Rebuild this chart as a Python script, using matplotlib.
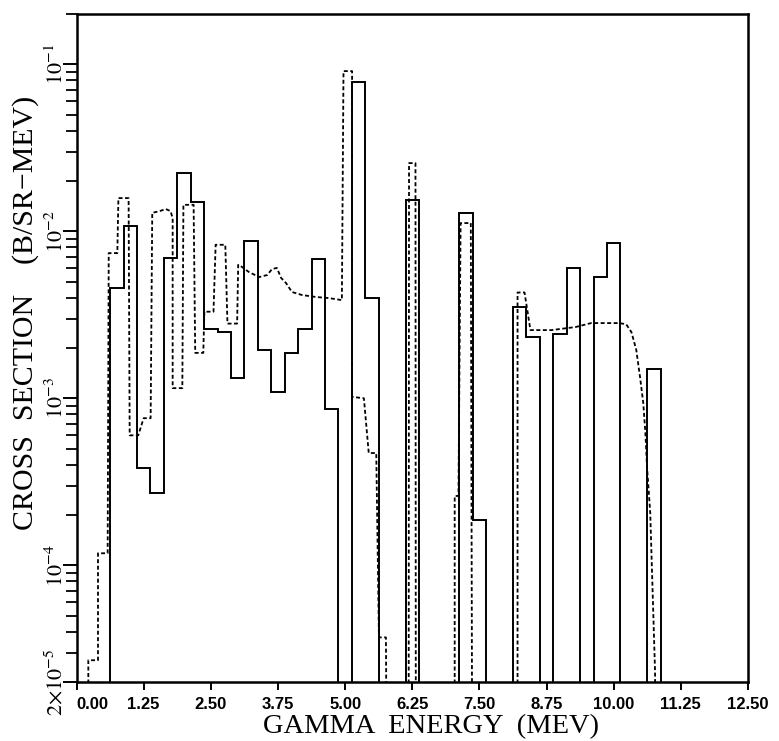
import numpy as np
import matplotlib.pyplot as plt
from matplotlib.ticker import FixedLocator, LogLocator, NullFormatter

# measured spectrum: 0.25 MeV bins (bin edges)
bin_edges = np.arange(0.625, 10.876, 0.25)
measured = [4.6e-3, 1.08e-2, 3.8e-4, 2.7e-4, 6.9e-3, 2.23e-2, 1.5e-2, 2.6e-3,
            2.5e-3, 1.32e-3, 8.75e-3, 1.95e-3, 1.09e-3, 1.87e-3, 2.6e-3, 6.8e-3,
            8.6e-4, 0, 7.8e-2, 4.0e-3, 0, 0, 1.54e-2, 0,
            0, 0, 1.29e-2, 1.87e-4, 0, 0, 3.5e-3, 2.33e-3,
            0, 2.43e-3, 6.0e-3, 0, 5.3e-3, 8.5e-3, 0, 0,
            1.5e-3]

# calculated spectrum (0 = below the plotted range)
calc_e = [0.22, 0.22, 0.40, 0.40, 0.58, 0.60, 0.76, 0.78, 0.97, 0.99,
          1.15, 1.25, 1.38, 1.41, 1.55, 1.66, 1.75, 1.79, 1.79, 1.97,
          1.99, 2.18, 2.21, 2.36, 2.38, 2.55, 2.59, 2.77, 2.81, 2.99,
          3.01, 3.03, 3.21, 3.40, 3.55, 3.64, 3.73, 3.81, 3.90, 4.01,
          4.20, 4.46, 4.70, 4.94, 4.97, 5.13, 5.13, 5.35, 5.44, 5.58,
          5.63, 5.76, 5.81, 6.18, 6.19, 6.31, 6.32, 7.04, 7.04, 7.11,
          7.15, 7.34, 7.38, 8.21, 8.21, 8.34, 8.45, 8.84, 9.29, 9.58,
          10.09, 10.23, 10.33, 10.42, 10.49, 10.55, 10.59, 10.62, 10.68, 10.77,
          10.79]
calc_v = [0, 2.7e-5, 2.7e-5, 1.18e-4, 1.18e-4, 7.4e-3, 7.4e-3, 1.58e-2, 1.58e-2, 6.0e-4,
          6.0e-4, 7.6e-4, 7.6e-4, 1.29e-2, 1.32e-2, 1.36e-2, 1.32e-2, 1.2e-2, 1.15e-3, 1.15e-3,
          1.44e-2, 1.44e-2, 1.87e-3, 1.87e-3, 3.3e-3, 3.3e-3, 8.3e-3, 8.3e-3, 2.8e-3, 2.8e-3,
          6.3e-3, 6.28e-3, 5.7e-3, 5.32e-3, 5.47e-3, 5.94e-3, 6.03e-3, 5.25e-3, 4.9e-3, 4.33e-3,
          4.15e-3, 4.04e-3, 3.98e-3, 3.87e-3, 9.1e-2, 9.1e-2, 1.02e-3, 1.0e-3, 4.7e-4, 4.7e-4,
          3.7e-5, 3.7e-5, 0, 0, 2.56e-2, 2.56e-2, 0, 0, 2.6e-4, 2.6e-4,
          1.12e-2, 1.12e-2, 0, 0, 4.3e-3, 4.3e-3, 2.56e-3, 2.56e-3, 2.67e-3, 2.82e-3,
          2.82e-3, 2.78e-3, 2.49e-3, 1.95e-3, 1.34e-3, 9.4e-4, 6.2e-4, 3.9e-4, 2.06e-4, 2.3e-5,
          0]

x_ticks = [0.0, 1.25, 2.5, 3.75, 5.0, 6.25, 7.5, 8.75, 10.0, 11.25, 12.5]
y_ticks = [2e-5, 1e-4, 1e-3, 1e-2, 1e-1]
y_ticklabels = [r"$2{\times}10^{-5}$", r"$10^{-4}$", r"$10^{-3}$", r"$10^{-2}$", r"$10^{-1}$"]

FLOOR = 1e-7
plt.rcParams["mathtext.fontset"] = "stix"

fig = plt.figure(figsize=(7.79, 7.41), dpi=100)
ax = fig.add_axes([76.5 / 779, 59 / 741, 671.5 / 779, 668 / 741])

meas = np.where(np.array(measured) > 0, measured, FLOOR)
ax.stairs(meas, bin_edges, baseline=FLOOR, color="black", lw=1.4)

calc = np.where(np.array(calc_v) > 0, calc_v, FLOOR)
ax.plot(calc_e, calc, color="black", lw=1.3, linestyle=(0, (2.2, 1.4)))

ax.set_yscale("log")
ax.set_xlim(0, 12.5)
ax.set_ylim(2e-5, 2e-1)

for s in ax.spines.values():
    s.set_linewidth(1.8)

ax.xaxis.set_major_locator(FixedLocator(x_ticks))
ax.set_xticklabels([f"{t:.2f}" for t in x_ticks], fontsize=12,
                   family="Liberation Sans", fontweight="bold")
ax.get_xticklabels()[0].set_ha("left")  # keep 0.00 clear of the y labels
ax.tick_params(axis="x", direction="out", length=6, width=1.4, pad=5)

ax.yaxis.set_major_locator(FixedLocator(y_ticks))
ax.yaxis.set_minor_locator(LogLocator(base=10, subs=np.arange(2, 10), numticks=20))
ax.yaxis.set_minor_formatter(NullFormatter())
ax.set_yticklabels(y_ticklabels, fontsize=16, rotation=90, va="center")
ax.tick_params(axis="y", which="major", direction="out", length=10, width=1.4, pad=-3)
ax.tick_params(axis="y", which="minor", direction="out", length=8, width=1.3)

fig.text(431 / 779, 8 / 741, "GAMMA  ENERGY  (MEV)",
         family="Liberation Serif", fontsize=20.5, ha="center", va="baseline")
fig.text(26 / 779, 1 - 313 / 741, "CROSS  SECTION    (B/SR\u2212MEV)",
         family="Liberation Serif", fontsize=21.5, rotation=90,
         ha="center", va="center")

fig.savefig("out.png", dpi=100)
